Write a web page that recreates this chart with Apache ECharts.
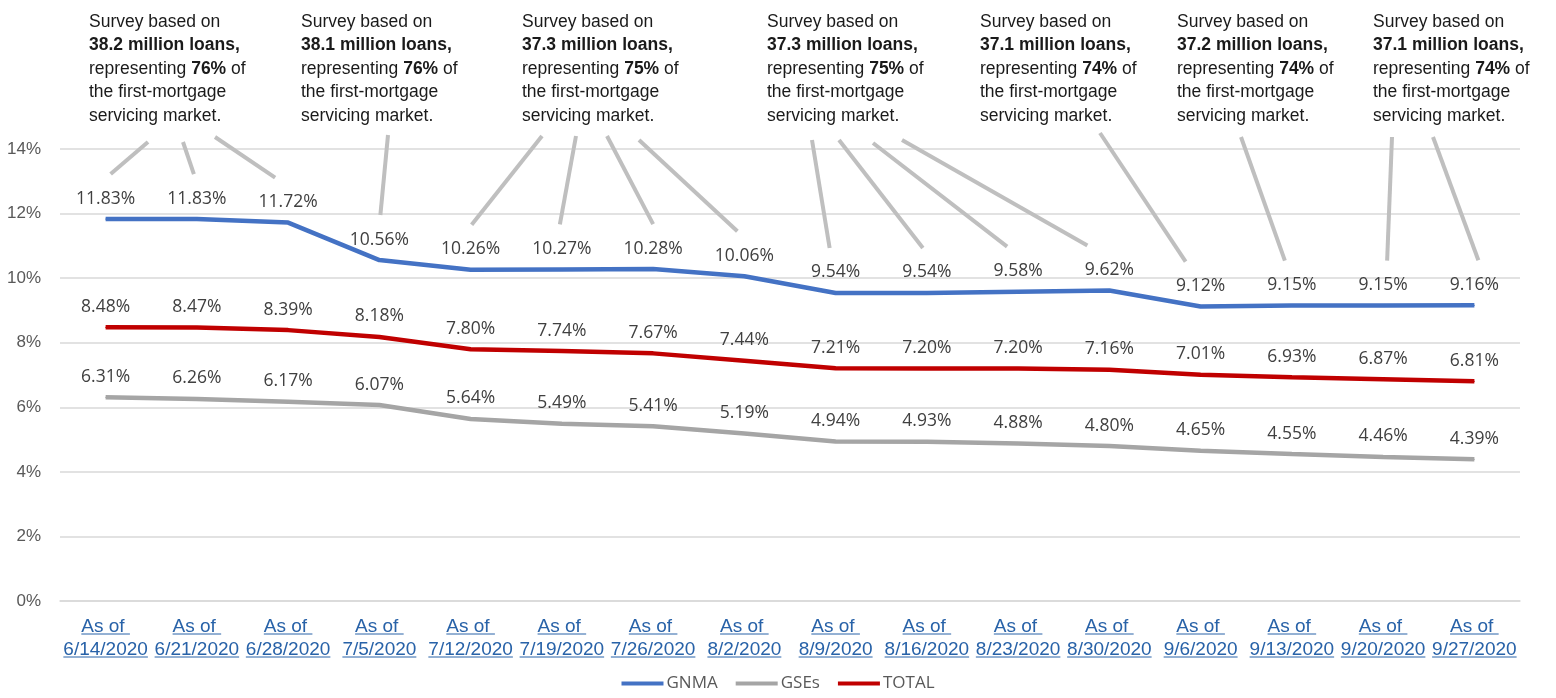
<!DOCTYPE html>
<html>
<head>
<meta charset="utf-8">
<script src="https://cdn.jsdelivr.net/npm/echarts@6/dist/echarts.min.js"></script>
<style>
  html, body { margin: 0; padding: 0; background: #fff; }
  #chart { width: 1556px; height: 698px; }
</style>
</head>
<body>
<div id="chart"></div>
<script>
// data
const dates = ['6/14/2020', '6/21/2020', '6/28/2020', '7/5/2020', '7/12/2020', '7/19/2020', '7/26/2020', '8/2/2020',
  '8/9/2020', '8/16/2020', '8/23/2020', '8/30/2020', '9/6/2020', '9/13/2020', '9/20/2020', '9/27/2020']
const gnma = [11.83, 11.83, 11.72, 10.56, 10.26, 10.27, 10.28, 10.06, 9.54, 9.54, 9.58, 9.62, 9.12, 9.15, 9.15, 9.16]
const gses = [6.31, 6.26, 6.17, 6.07, 5.64, 5.49, 5.41, 5.19, 4.94, 4.93, 4.88, 4.80, 4.65, 4.55, 4.46, 4.39]
const total = [8.48, 8.47, 8.39, 8.18, 7.80, 7.74, 7.67, 7.44, 7.21, 7.20, 7.20, 7.16, 7.01, 6.93, 6.87, 6.81]
// survey notes (one per block at the top)
const surveyLoans = ['38.2', '38.1', '37.3', '37.3', '37.1', '37.2', '37.1']
const surveyShare = ['76%', '76%', '75%', '75%', '74%', '74%', '74%']

const LABEL_FONT = '"Open Sans", "Noto Sans", sans-serif'
const SANS = '"Liberation Sans", Arial, sans-serif'
const X_FONT_SIZE = 19

const chart = echarts.init(document.getElementById('chart'))

function lineSeries(name, data, color) {
  return {
    name: name,
    type: 'line',
    data: data,
    color: color,
    // tiny symbol so the labels are drawn, hidden under the line
    symbol: 'circle',
    symbolSize: 1,
    showSymbol: true,
    lineStyle: { width: 4.5 },
    label: {
      show: true,
      position: 'top',
      distance: 11,
      color: '#404040',
      fontSize: 17.5,
      fontFamily: LABEL_FONT,
      formatter: p => p.value.toFixed(2) + '%'
    },
    labelLayout: { hideOverlap: false }
  }
}

const option = {
  animation: false,
  grid: { left: 60, right: 36, top: 149, bottom: 97 },
  xAxis: {
    type: 'category',
    data: dates,
    boundaryGap: true,
    axisLine: { lineStyle: { color: '#D9D9D9', width: 1.5 } },
    axisTick: { show: false },
    axisLabel: {
      interval: 0,
      margin: 14,
      color: '#2862A8',
      fontSize: X_FONT_SIZE,
      lineHeight: 23,
      fontFamily: SANS,
      formatter: v => 'As of \n' + v
    }
  },
  yAxis: {
    type: 'value',
    min: 0,
    max: 14,
    interval: 2,
    axisLine: { show: false },
    axisTick: { show: false },
    splitLine: { lineStyle: { color: '#D9D9D9', width: 1.5 } },
    axisLabel: {
      margin: 19,
      color: '#595959',
      fontSize: 17,
      fontFamily: SANS,
      formatter: v => v + '%'
    }
  },
  legend: {
    bottom: 1,
    left: 'center',
    icon: 'rect',
    itemWidth: 42,
    itemHeight: 4,
    itemGap: 18,
    textStyle: { color: '#595959', fontSize: 17, fontFamily: LABEL_FONT, padding: [0, 0, 0, -2] },
    data: ['GNMA', 'GSEs', 'TOTAL']
  },
  series: [
    lineSeries('GNMA', gnma, '#4472C4'),
    lineSeries('GSEs', gses, '#A5A5A5'),
    lineSeries('TOTAL', total, '#C00000')
  ]
}
chart.setOption(option)

// overlay: survey notes, leader lines and label underlines
const blockX = [89, 301, 522, 767, 980, 1177, 1373]
// upper end of each leader line (near its note), one per category
const leaderTop = [[148, 142], [183, 142], [215, 137], [388, 135], [542, 136], [576, 136], [607, 136], [639, 140],
  [812, 140], [839, 140], [873, 143], [902, 140], [1100, 133], [1241, 137], [1392, 137], [1433, 137]]
const leaderDx = [5, -3, -13, 1, 1, -2, 0, -7, -6, -4, -11, -22, -15, -7, 4, 4]

function buildOverlay() {
  const els = []
  const rich = {
    n: { fontSize: 17.5, fontFamily: SANS, lineHeight: 23.5, fill: '#1a1a1a' },
    b: { fontSize: 17.5, fontFamily: SANS, fontWeight: 'bold', lineHeight: 23.5, fill: '#1a1a1a' }
  }
  surveyLoans.forEach((loans, k) => {
    els.push({
      type: 'text',
      left: blockX[k],
      top: 13,
      silent: true,
      style: {
        text: '{n|Survey based on}\n{b|' + loans + ' million loans,}\n{n|representing }{b|' + surveyShare[k] + '}{n| of}\n{n|the first-mortgage}\n{n|servicing market.}',
        rich: rich
      }
    })
  })
  // leader lines from notes down to GNMA labels
  gnma.forEach((v, i) => {
    const p = chart.convertToPixel({ seriesIndex: 0 }, [i, v])
    els.push({
      type: 'line',
      silent: true,
      shape: { x1: leaderTop[i][0], y1: leaderTop[i][1], x2: p[0] + leaderDx[i], y2: p[1] - 45 },
      style: { stroke: '#BFBFBF', lineWidth: 4 }
    })
  })
  // underline the category labels like hyperlinks
  const ctx = document.createElement('canvas').getContext('2d')
  ctx.font = X_FONT_SIZE + 'px ' + SANS
  const y0 = chart.convertToPixel({ yAxisIndex: 0 }, 0)
  dates.forEach((d, i) => {
    const x = chart.convertToPixel({ xAxisIndex: 0 }, i)
    ;['As of ', d].forEach((t, line) => {
      const w = ctx.measureText(t).width
      const y = y0 + 14 + 11.5 + 7.5 + line * 23
      els.push({
        type: 'line',
        silent: true,
        shape: { x1: x - w / 2, y1: y, x2: x + w / 2, y2: y },
        style: { stroke: '#2862A8', lineWidth: 1 }
      })
    })
  })
  chart.setOption({ graphic: els })
}
buildOverlay()
</script>
</body>
</html>
